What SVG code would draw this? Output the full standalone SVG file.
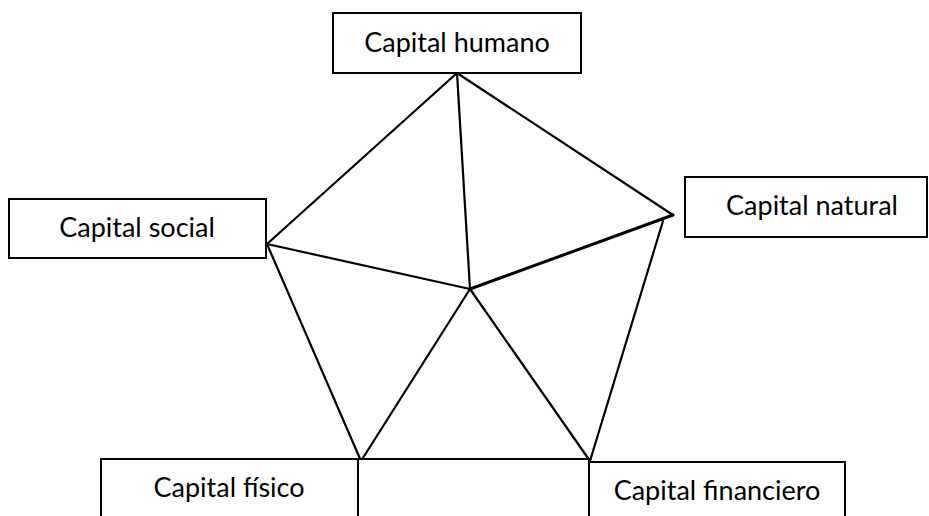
<svg xmlns="http://www.w3.org/2000/svg" width="929" height="516" viewBox="0 0 929 516">
<style>
.box{fill:#fff;stroke:#000;stroke-width:2}
.lbl{font-family:Lato,"Open Sans","Liberation Sans",sans-serif;font-size:27px;fill:#000;text-anchor:middle}
.ln{stroke:#000;stroke-width:2.2;fill:none;stroke-linecap:round}
</style>
<rect width="929" height="516" fill="#fff"/>
<g id="connectors">
<line class="ln" x1="457" y1="73" x2="267" y2="244"/>
<line class="ln" x1="457" y1="73" x2="673" y2="215"/>
<line class="ln" x1="457" y1="73" x2="470" y2="289"/>
<line class="ln" x1="267" y1="244" x2="470" y2="289"/>
<line class="ln" x1="673" y1="215" x2="470" y2="289" style="stroke-width:3"/>
<line class="ln" x1="267" y1="244" x2="361" y2="461"/>
<line class="ln" x1="663" y1="221" x2="590" y2="461"/>
<line class="ln" x1="470" y1="289" x2="361" y2="461"/>
<line class="ln" x1="470" y1="289" x2="590" y2="461"/>
</g>
<g id="humano">
<rect class="box" x="333" y="13" width="248" height="60"/>
<text class="lbl" x="457" y="52">Capital humano</text>
</g>
<g id="social">
<rect class="box" x="9" y="199" width="257" height="59"/>
<text class="lbl" x="137" y="237">Capital social</text>
</g>
<g id="natural">
<rect class="box" x="685" y="177" width="242" height="60"/>
<text class="lbl" x="812" y="215">Capital natural</text>
</g>
<g id="fisico">
<rect class="box" x="101" y="459" width="257" height="70"/>
<text class="lbl" x="229" y="497">Capital físico</text>
</g>
<g id="medio">
<rect class="box" x="358" y="459" width="231" height="70"/>
</g>
<g id="financiero">
<rect class="box" x="589" y="462" width="256" height="70"/>
<text class="lbl" x="717" y="500">Capital financiero</text>
</g>
</svg>
